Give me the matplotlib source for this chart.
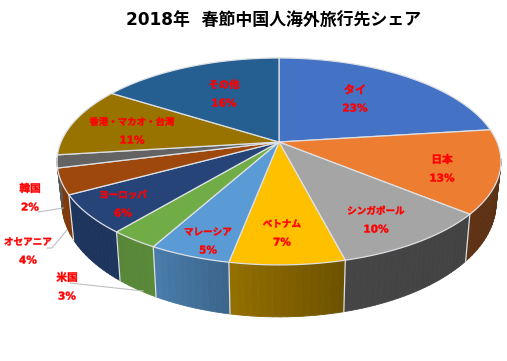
import numpy as np
import matplotlib
matplotlib.use("Agg")
import matplotlib.pyplot as plt
import matplotlib.patheffects as pe

title = "2018年  春節中国人海外旅行先シェア"
categories = ["タイ", "日本", "シンガポール", "ベトナム", "マレーシア", "米国",
              "ヨーロッパ", "オセアニア", "韓国", "香港・マカオ・台湾", "その他"]
shares = [23, 13, 10, 7, 5, 3, 6, 4, 2, 11, 16]
colors = ["#4472C4", "#ED7D31", "#A5A5A5", "#FFC000", "#5B9BD5", "#70AD47",
          "#264478", "#9E480E", "#636363", "#997300", "#255E91"]
label_xy = [(355, 90), (442, 160), (376, 211), (282, 224), (208, 232), (67, 278),
            (123, 195), (28, 242), (30, 189), (132, 122), (224, 85)]
label_size = [8.0, 7.7, 6.9, 6.9, 6.9, 7.7, 6.9, 6.9, 7.7, 6.8, 7.4]

CX, CY, A, B, K = 279.0, 142.0, 218.0, 99.8, 0.188
SX, SY, DY = 0.978, 1.10, 39.7
EDGE = "#DDE0E4"
STROKE = [pe.Stroke(linewidth=0.3, foreground="#FF0000")]


def top(theta):
    u, v = np.sin(theta), np.cos(theta)
    w = 1 + K * v
    return CX + A * u / w, CY - B * v / w


def bottom(theta):
    x, y = top(theta)
    return CX + (x - CX) * SX, CY + DY + (y - CY) * SY


def shade(deg):
    d = np.mod(deg, 360)
    return np.interp(d, [100, 130, 165, 190.5, 191, 208, 220, 240, 262],
                     [.38, .40, .42, .58, .65, .80, .78, .76, .90])


def side_color(base, deg):
    rgb = np.array(matplotlib.colors.to_rgb(base))
    return tuple(rgb * shade(deg))


fig = plt.figure(figsize=(5.07, 3.61), dpi=100, facecolor="white")
ax = fig.add_axes([0, 0, 1, 1])
ax.set_xlim(0, 507)
ax.set_ylim(361, 0)
ax.axis("off")

edges = np.concatenate([[0], np.cumsum(shares)]) / sum(shares) * 2 * np.pi

# sides: only the front part of the rim is visible
for i, col in enumerate(colors):
    t0, t1 = edges[i], edges[i + 1]
    ts = np.linspace(t0, t1, max(4, int((t1 - t0) * 40)))
    for a, b in zip(ts[:-1], ts[1:]):
        if not (np.radians(100) < (a + b) / 2 < np.radians(262)):
            continue
        xa, ya = top(a); xb, yb = top(b)
        xc, yc = bottom(b); xd, yd = bottom(a)
        c = side_color(col, np.degrees((a + b) / 2))
        ax.fill([xa, xb, xc, xd], [ya, yb, yc, yd], color=c, lw=0.6, zorder=2)

# dividing lines on the visible side
for t in edges[:-1]:
    if np.pi * 0.55 < t % (2 * np.pi) < np.pi * 1.39:
        x0, y0 = top(t); x1, y1 = bottom(t)
        ax.plot([x0, x1], [y0, y1], color=EDGE, lw=0.9, zorder=3)

# top surface
for i, col in enumerate(colors):
    ts = np.linspace(edges[i], edges[i + 1], 80)
    x, y = top(ts)
    ax.fill(np.r_[CX, x], np.r_[CY, y], facecolor=col, edgecolor=EDGE, lw=0.9,
            joinstyle="round", zorder=4)

# leader lines
LEAD = "#BFBFBF"
for xs, ys in [([38, 63], [212, 208]), ([47, 52, 67], [248, 248, 230]), ([70, 143], [283, 291])]:
    ax.plot(xs, ys, color=LEAD, lw=0.8, zorder=5)

# labels
for (x, y), name, v, fs in zip(label_xy, categories, shares, label_size):
    ax.text(x, y, name, color="#FF0000", fontsize=fs, fontweight="bold",
            family=["Noto Sans CJK JP", "DejaVu Sans"], ha="center", va="center",
            zorder=6, path_effects=STROKE)
    ax.text(x, y + 18.5, f"{v}%", color="#FF0000", fontsize=7.6, fontweight="bold",
            family="DejaVu Sans", ha="center", va="center", zorder=6, path_effects=STROKE)

ax.text(273.5, 21, title, color="black", fontsize=12.2, fontweight="bold",
        family=["DejaVu Sans", "Noto Sans CJK JP"], ha="center", va="center", zorder=6)

fig.savefig("out.png", dpi=100)
